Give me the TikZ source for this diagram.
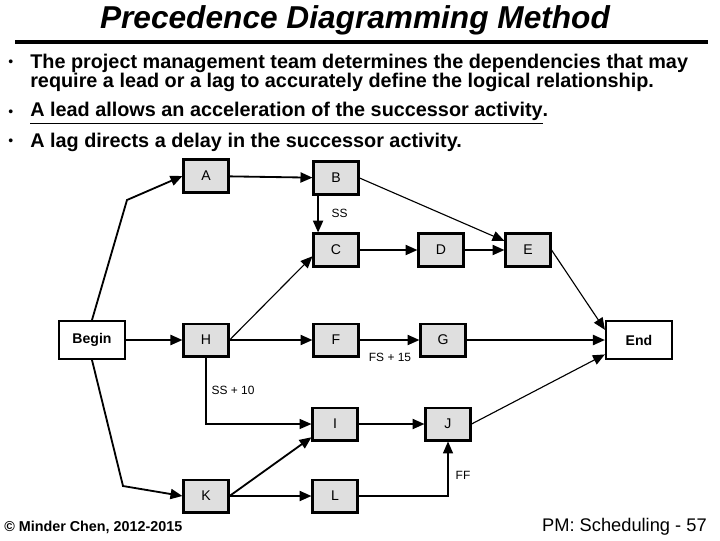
\documentclass[tikz,border=0pt]{standalone}
\usepackage{fontspec}
\setmainfont{Liberation Sans}
\usetikzlibrary{arrows.meta,calc}

\begin{document}
\begin{tikzpicture}[x=0.025cm,y=0.025cm,
  act/.style={draw,line width=1.5pt,fill=gray!25,minimum width=32pt,minimum height=23.4pt,inner sep=0pt,font=\fontsize{10}{12}\selectfont},
  term/.style={draw,line width=1.5pt,fill=white,minimum width=47pt,minimum height=27pt,inner sep=0pt,font=\bfseries\fontsize{10}{12}\selectfont},
  lbl/.style={font=\fontsize{8.5}{10}\selectfont,inner sep=1pt},
  txt/.style={anchor=west,font=\bfseries\fontsize{14.1}{16}\selectfont,inner sep=0pt},
  link/.style={-{Triangle[length=8.5pt,width=7.2pt]},line width=1.3pt},
  slim/.style={-{Triangle[length=8.5pt,width=7.2pt]},line width=0.8pt}]
\useasboundingbox (0,-540) rectangle (720,0);

% heading and bullets
\node[font=\bfseries\itshape\fontsize{22.5}{26}\selectfont] (title) at (355,-20) {Precedence Diagramming Method};
\draw[line width=2.2pt] (15,-42) -- (708,-42);
\node[txt,font=\fontsize{10}{12}\selectfont] (dot1) at (8,-63) {\textbullet};
\node[txt] (t1) at (30,-63) {The project management team determines the dependencies that may};
\node[txt] (t2) at (30,-82) {require a lead or a lag to accurately define the logical relationship.};
\node[txt,font=\fontsize{10}{12}\selectfont] (dot2) at (8,-113) {\textbullet};
\node[txt] (t3) at (30,-113) {\underline{A lead allows an acceleration of the successor activity}.};
\node[txt,font=\fontsize{10}{12}\selectfont] (dot3) at (8,-142) {\textbullet};
\node[txt] (t4) at (30,-142) {A lag directs a delay in the successor activity.};

% activities
\node[act] (A) at (206,-176) {A};
\node[act] (B) at (336,-178) {B};
\node[act] (C) at (336,-250) {C};
\node[act] (D) at (441,-250) {D};
\node[act] (E) at (528,-250) {E};
\node[term] (Begin) at (92,-340) {Begin};
\node[act] (H) at (206,-340) {H};
\node[act] (F) at (336,-340) {F};
\node[act] (G) at (443,-340) {G};
\node[term] (End) at (639,-340) {End};
\node[act] (I) at (335,-424) {I};
\node[act] (J) at (448,-424) {J};
\node[act] (K) at (206,-496) {K};
\node[act] (L) at (335,-496) {L};

\coordinate (bendA) at (127,-200);
\coordinate (bendK) at (123,-486);

% links
\draw[link] (Begin.north) -- (bendA) -- (A.west);
\draw[link] (Begin.south) -- (bendK) -- (K.west);
\draw[link] (Begin) -- (H);
\draw[link] (A) -- (B);
\draw[link] ([xshift=4pt]B.south west) -- ([xshift=4pt]C.north west);
\draw[slim] (B.east) -- ([yshift=-6pt]E.north west);
\draw[link] (C) -- (D);
\draw[link] (D) -- (E);
\draw[slim] (E.east) -- ([yshift=-7pt]End.north west);
\draw[slim] (H.east) -- ([yshift=8pt]C.south west);
\draw[link] (H) -- (F);
\draw[link] (F) -- (G);
\draw[link] (G) -- (End);
\draw[slim] (H.south) |- (I.west);
\draw[link] (I) -- (J);
\draw[slim] (J.east) -- ([yshift=4pt]End.south west);
\draw[link] (K.east) -- ([yshift=3pt]I.south west);
\draw[link] (K) -- (L);
\draw[slim] (L.east) -| (J.south);

% lag labels
\node[lbl,anchor=west] (ss) at (330,-213) {SS};
\node[lbl] (fs15) at (390,-357) {FS + 15};
\node[lbl] (ss10) at (233,-390) {SS + 10};
\node[lbl] (ff) at (463,-475) {FF};

% footer
\node[anchor=west,font=\bfseries\fontsize{10.2}{12}\selectfont,inner sep=0pt] (copy) at (4,-527) {© Minder Chen, 2012-2015};
\node[anchor=east,font=\fontsize{13}{15}\selectfont,inner sep=0pt] (page) at (707,-527) {PM: Scheduling - 57};
\end{tikzpicture}
\end{document}
